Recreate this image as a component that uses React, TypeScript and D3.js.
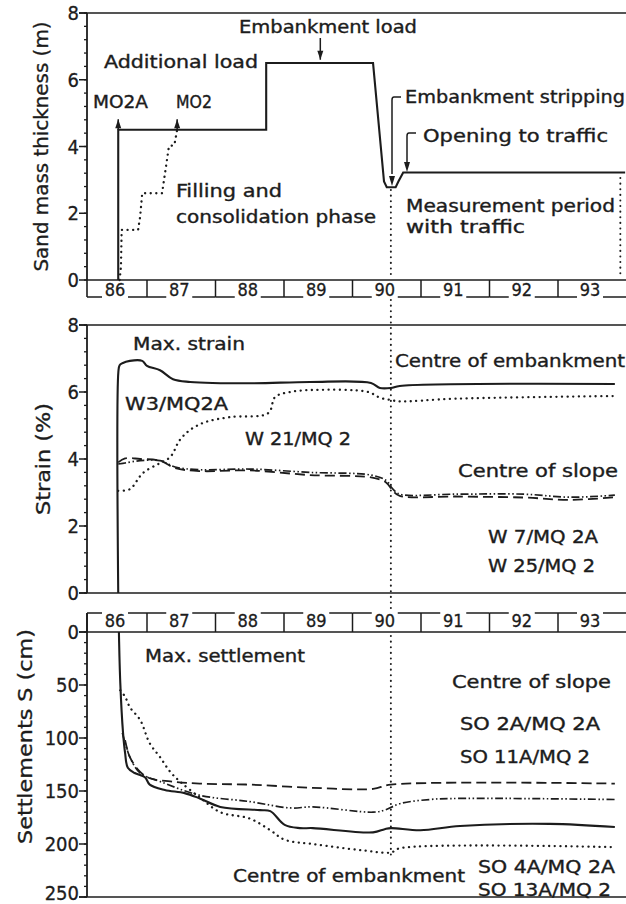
import React from "react";
import * as d3 from "d3";

// years on the band axis (two-digit)
const yearLabels = ["86", "87", "88", "89", "90", "91", "92", "93"];
const yearStarts = [86, 87, 88, 89, 90, 91, 92, 93];

// panel 1: sand mass thickness (m)
const mo2a: [number, number][] = [
  [86.58, 0], [86.58, 4.5], [88.74, 4.5], [88.74, 6.5], [90.3, 6.5],
  [90.46, 2.95], [90.5, 2.78], [90.63, 2.78], [90.67, 2.95], [90.74, 3.22], [93.98, 3.22],
];
const mo2: [number, number][] = [
  [86.6, 0], [86.62, 0.4], [86.63, 1.5], [86.87, 1.5], [86.9, 1.9], [86.93, 2.6],
  [87.22, 2.6], [87.27, 3.3], [87.32, 4.0], [87.4, 4.05], [87.44, 4.5],
];

// panel 2: strain (%)
const w3: [number, number][] = [
  [86.58, 0], [86.582, 6.6], [86.6, 6.8], [86.64, 6.86], [86.75, 6.93], [86.93, 6.93],
  [87.0, 6.78], [87.19, 6.65], [87.38, 6.38], [87.63, 6.3], [88.5, 6.26], [89.38, 6.3],
  [90.27, 6.27], [90.4, 6.12], [90.56, 6.12], [90.69, 6.18], [93.83, 6.24],
];
const w21: [number, number][] = [
  [86.58, 3.05], [86.75, 3.1], [86.94, 3.58], [87.19, 3.88], [87.34, 4.06], [87.48, 4.57],
  [87.63, 4.87], [87.85, 5.1], [88.21, 5.25], [88.77, 5.37], [88.87, 5.85], [89.09, 6.0],
  [89.42, 6.06], [90.23, 6.0], [90.4, 5.83], [90.56, 5.76], [90.69, 5.72], [91.5, 5.8], [93.83, 5.88],
];
const w7: [number, number][] = [
  [86.58, 3.9], [86.68, 4.02], [86.9, 4.0], [87.19, 3.95], [87.41, 3.73], [87.77, 3.64],
  [88.5, 3.66], [89.38, 3.52], [90.27, 3.45], [90.49, 3.3], [90.59, 3.05], [90.69, 2.9],
  [91.5, 2.88], [92.5, 2.85], [93.18, 2.78], [93.83, 2.86],
];
const w25: [number, number][] = [
  [86.58, 3.85], [86.68, 3.88], [86.9, 3.95], [87.19, 3.95], [87.41, 3.76], [87.77, 3.68],
  [88.5, 3.7], [89.38, 3.6], [90.27, 3.52], [90.49, 3.36], [90.59, 3.1], [90.69, 2.95],
  [91.5, 2.95], [92.5, 2.95], [93.18, 2.86], [93.83, 2.92],
];

// panel 3: settlements (cm)
const so4a: [number, number][] = [
  [86.59, 0], [86.61, 48], [86.65, 95], [86.68, 114], [86.72, 128], [86.82, 133], [86.97, 137],
  [87.04, 144], [87.26, 149], [87.55, 152], [87.77, 157], [88.07, 165], [88.65, 168], [88.8, 169],
  [89.01, 182], [89.23, 185], [89.42, 185], [90.3, 189], [90.47, 186], [90.56, 185], [90.99, 187],
  [91.57, 183], [92.88, 181], [93.83, 184],
];
const so13a: [number, number][] = [
  [86.61, 55], [86.68, 61], [86.75, 71], [86.9, 83], [87.04, 105], [87.19, 118], [87.34, 132],
  [87.48, 141], [87.77, 156], [88.07, 170], [88.5, 176], [88.8, 187], [89.01, 196], [89.42, 200],
  [90.15, 206], [90.56, 208], [90.69, 204], [93.83, 203],
];
const so2a: [number, number][] = [
  [86.68, 102], [86.75, 118], [86.9, 132], [87.04, 138], [87.34, 141], [87.77, 143], [88.5, 144],
  [89.42, 147], [90.3, 148], [90.56, 144], [93.83, 143],
];
const so11a: [number, number][] = [
  [86.64, 95], [86.75, 118], [86.9, 133], [87.19, 141], [87.77, 154], [88.5, 160], [89.09, 166],
  [89.42, 165], [90.3, 170], [90.47, 168], [90.69, 162], [91.13, 158], [91.57, 157], [93.83, 158],
];

const FONT = "'DejaVu Sans Condensed', 'DejaVu Sans', sans-serif";
const INK = "#1c1c1c";
const W = 626;
const H = 904;
const AX = 87; // left axis
const RIGHT = 626;

const x = d3.scaleLinear().domain([87, 93]).range([147, 558]);
const y1 = d3.scaleLinear().domain([0, 8]).range([280, 13]);
const y2 = d3.scaleLinear().domain([0, 8]).range([593, 325]);
const y3 = d3.scaleLinear().domain([0, 250]).range([632, 897]);

const DOT = { strokeDasharray: "0.1 5.5", strokeLinecap: "round" as const, strokeWidth: 2.3 };
const DASH = { strokeDasharray: "10 5", strokeWidth: 1.8 };
const DASHDOT = { strokeDasharray: "8 2.5 1.5 2.5 1.5 2.5", strokeWidth: 1.7 };
const SOLID = { strokeWidth: 2.1 };

function Txt({ x: tx, y: ty, w, children, size = 18 }: any) {
  return (
    <text x={tx} y={ty} fontSize={size} fontFamily={FONT} fill={INK} stroke={INK} strokeWidth={0.35}
      textLength={w} lengthAdjust="spacingAndGlyphs">{children}</text>
  );
}

function Arrow({ x0, y0, tip, dir }: { x0: number; y0: number; tip: number; dir: "up" | "down" }) {
  const s = dir === "down" ? -1 : 1;
  return (
    <g>
      <line x1={x0} y1={y0} x2={x0} y2={tip} stroke={INK} strokeWidth={1.5} />
      <path d={`M${x0},${tip} L${x0 - 3},${tip + s * 9} L${x0 + 3},${tip + s * 9} Z`} fill={INK} />
    </g>
  );
}

function YAxis({ scale, majors, minors, top, bottom }: any) {
  return (
    <g>
      <line x1={AX} x2={AX} y1={top} y2={bottom} stroke={INK} strokeWidth={1.8} />
      {minors.map((v: number, i: number) => (
        <line key={"m" + i} x1={AX - 3} x2={AX} y1={scale(v)} y2={scale(v)} stroke={INK} strokeWidth={1.3} />
      ))}
      {majors.map((v: number) => (
        <g key={v}>
          <line x1={AX - 8} x2={AX} y1={scale(v)} y2={scale(v)} stroke={INK} strokeWidth={1.5} />
          <text x={79} y={Math.min(scale(v), 893)} dy="0.36em" textAnchor="end" fontSize={20}
            fontFamily={FONT} fill={INK} stroke={INK} strokeWidth={0.3}>{v}</text>
        </g>
      ))}
    </g>
  );
}

function YearBand({ lineY, axisY, labelY }: { lineY: number; axisY: number; labelY: number }) {
  const segs = yearStarts.map((yr, i) => {
    const a = i === 0 ? AX : x(yr);
    const b = i === yearStarts.length - 1 ? RIGHT : x(yr + 1);
    return { a, b, c: (a + b) / 2 - 2, label: yearLabels[i] };
  });
  return (
    <g>
      <line x1={AX} x2={AX} y1={axisY} y2={lineY} stroke={INK} strokeWidth={1.6} />
      {segs.map((s, i) => (
        <g key={i}>
          {i > 0 && <line x1={s.a} x2={s.a} y1={axisY} y2={lineY} stroke={INK} strokeWidth={1.5} />}
          <line x1={s.a} x2={s.c - 13} y1={lineY} y2={lineY} stroke={INK} strokeWidth={1.5} />
          <line x1={s.c + 13} x2={s.b} y1={lineY} y2={lineY} stroke={INK} strokeWidth={1.5} />
          <text x={s.c} y={labelY} textAnchor="middle" fontSize={18} fontFamily={FONT} fill={INK}
            stroke={INK} strokeWidth={0.3}>{s.label}</text>
        </g>
      ))}
    </g>
  );
}

export default function App() {
  const lin = (ys: any) => d3.line<[number, number]>().x((d) => x(d[0])).y((d) => ys(d[1]));
  const smooth = (ys: any) =>
    d3.line<[number, number]>().x((d) => x(d[0])).y((d) => ys(d[1])).curve(d3.curveCatmullRom.alpha(0.5));

  const minors8 = d3.range(0, 8.001, 0.4);
  const minors250 = d3.range(0, 250.1, 10);
  const xStrip = x(90.56);
  const xEnd = x(93.91);

  return (
    <svg width={W} height={H} style={{ position: "absolute", left: 0, top: 0, background: "#fff" }}>
      <rect width={W} height={H} fill="#fff" />

      {/* ---------- panel 1 ---------- */}
      <line x1={AX - 8} x2={RIGHT} y1={y1(8)} y2={y1(8)} stroke={INK} strokeWidth={1.6} />
      <line x1={AX} x2={RIGHT} y1={y1(0)} y2={y1(0)} stroke={INK} strokeWidth={1.7} />
      <YAxis scale={y1} majors={[0, 2, 4, 6, 8]} minors={minors8} top={y1(8)} bottom={y1(0)} />
      <YearBand lineY={297} axisY={y1(0)} labelY={296} />
      <text transform={`translate(48,${(y1(8) + y1(0)) / 2}) rotate(-90)`} textAnchor="middle"
        fontSize={19} fontFamily={FONT} fill={INK} stroke={INK} strokeWidth={0.3}
        textLength={250} lengthAdjust="spacingAndGlyphs">
        Sand mass thickness (m)
      </text>

      <path d={lin(y1)(mo2a) || ""} fill="none" stroke={INK} {...SOLID} />
      <path d={lin(y1)(mo2) || ""} fill="none" stroke={INK} {...DOT} />
      <Arrow x0={x(86.58)} y0={y1(4.5)} tip={y1(4.82)} dir="up" />
      <Arrow x0={x(87.44)} y0={y1(4.5)} tip={y1(4.82)} dir="up" />
      <Arrow x0={x(89.53)} y0={38} tip={y1(6.6)} dir="down" />
      <line x1={xStrip} x2={xStrip} y1={190} y2={276} stroke={INK} {...DOT} strokeWidth={2} />
      <line x1={xEnd} x2={xEnd} y1={178} y2={274} stroke={INK} {...DOT} strokeWidth={2} />

      {/* brackets for stripping and opening */}
      <path d={`M401,97 L394,97 Q392,97 392,100 L392,174`} fill="none" stroke={INK} strokeWidth={1.5} />
      <path d={`M392,186 L389,176 L395,176 Z`} fill={INK} />
      <path d={`M416,133 L409,133 Q407,133 407,136 L407,163`} fill="none" stroke={INK} strokeWidth={1.5} />
      <path d={`M407,172 L404,162 L410,162 Z`} fill={INK} />

      <Txt x={239} y={33} w={178}>Embankment load</Txt>
      <Txt x={104} y={68} w={154}>Additional load</Txt>
      <Txt x={93} y={108} w={55}>MO2A</Txt>
      <Txt x={176} y={108} w={36}>MO2</Txt>
      <Txt x={176} y={197} w={106}>Filling and</Txt>
      <Txt x={176} y={223} w={200}>consolidation phase</Txt>
      <Txt x={405} y={103} w={220}>Embankment stripping</Txt>
      <Txt x={423} y={142} w={185}>Opening to traffic</Txt>
      <Txt x={406} y={212} w={209}>Measurement period</Txt>
      <Txt x={406} y={233} w={119}>with traffic</Txt>

      {/* ---------- panel 2 ---------- */}
      <line x1={AX - 8} x2={RIGHT} y1={y2(8)} y2={y2(8)} stroke={INK} strokeWidth={1.6} />
      <line x1={AX - 8} x2={RIGHT} y1={y2(0)} y2={y2(0)} stroke={INK} strokeWidth={1.7} />
      <YAxis scale={y2} majors={[0, 2, 4, 6, 8]} minors={minors8} top={y2(8)} bottom={y2(0)} />
      <text transform={`translate(50,${(y2(8) + y2(0)) / 2}) rotate(-90)`} textAnchor="middle"
        fontSize={19} fontFamily={FONT} fill={INK} stroke={INK} strokeWidth={0.3}
        textLength={112} lengthAdjust="spacingAndGlyphs">
        Strain (%)
      </text>
      <line x1={xStrip} x2={xStrip} y1={300} y2={610} stroke={INK} {...DOT} strokeWidth={2} />

      <path d={smooth(y2)(w21) || ""} fill="none" stroke={INK} {...DOT} />
      <path d={smooth(y2)(w7) || ""} fill="none" stroke={INK} {...DASH} />
      <path d={smooth(y2)(w25) || ""} fill="none" stroke={INK} {...DASHDOT} />
      <path d={smooth(y2)(w3) || ""} fill="none" stroke={INK} {...SOLID} />

      <Txt x={133} y={350} w={112}>Max. strain</Txt>
      <Txt x={125} y={410} w={103}>W3/MQ2A</Txt>
      <Txt x={245} y={445} w={106}>W 21/MQ 2</Txt>
      <Txt x={395} y={367} w={230}>Centre of embankment</Txt>
      <Txt x={458} y={477} w={160}>Centre of slope</Txt>
      <Txt x={488} y={543} w={110}>W 7/MQ 2A</Txt>
      <Txt x={488} y={572} w={107}>W 25/MQ 2</Txt>

      {/* ---------- panel 3 ---------- */}
      <line x1={AX - 8} x2={RIGHT} y1={y3(0)} y2={y3(0)} stroke={INK} strokeWidth={1.7} />
      <line x1={AX - 8} x2={RIGHT} y1={y3(250)} y2={y3(250)} stroke={INK} strokeWidth={1.6} />
      <YAxis scale={y3} majors={[0, 50, 100, 150, 200, 250]} minors={minors250} top={613} bottom={y3(250)} />
      <YearBand lineY={613} axisY={y3(0)} labelY={627} />
      <text transform={`translate(32,${(y3(0) + y3(250)) / 2 - 28}) rotate(-90)`} textAnchor="middle"
        fontSize={19} fontFamily={FONT} fill={INK} stroke={INK} strokeWidth={0.3}
        textLength={215} lengthAdjust="spacingAndGlyphs">
        Settlements S (cm)
      </text>
      <line x1={xStrip} x2={xStrip} y1={636} y2={855} stroke={INK} {...DOT} strokeWidth={2} />

      <path d={smooth(y3)(so13a) || ""} fill="none" stroke={INK} {...DOT} />
      <path d={smooth(y3)(so2a) || ""} fill="none" stroke={INK} {...DASH} />
      <path d={smooth(y3)(so11a) || ""} fill="none" stroke={INK} {...DASHDOT} />
      <path d={smooth(y3)(so4a) || ""} fill="none" stroke={INK} {...SOLID} />

      <Txt x={145} y={662} w={160}>Max. settlement</Txt>
      <Txt x={452} y={688} w={159}>Centre of slope</Txt>
      <Txt x={460} y={730} w={140}>SO 2A/MQ 2A</Txt>
      <Txt x={460} y={763} w={130}>SO 11A/MQ 2</Txt>
      <Txt x={233} y={882} w={232}>Centre of embankment</Txt>
      <Txt x={478} y={873} w={137}>SO 4A/MQ 2A</Txt>
      <Txt x={478} y={896} w={133}>SO 13A/MQ 2</Txt>
    </svg>
  );
}
